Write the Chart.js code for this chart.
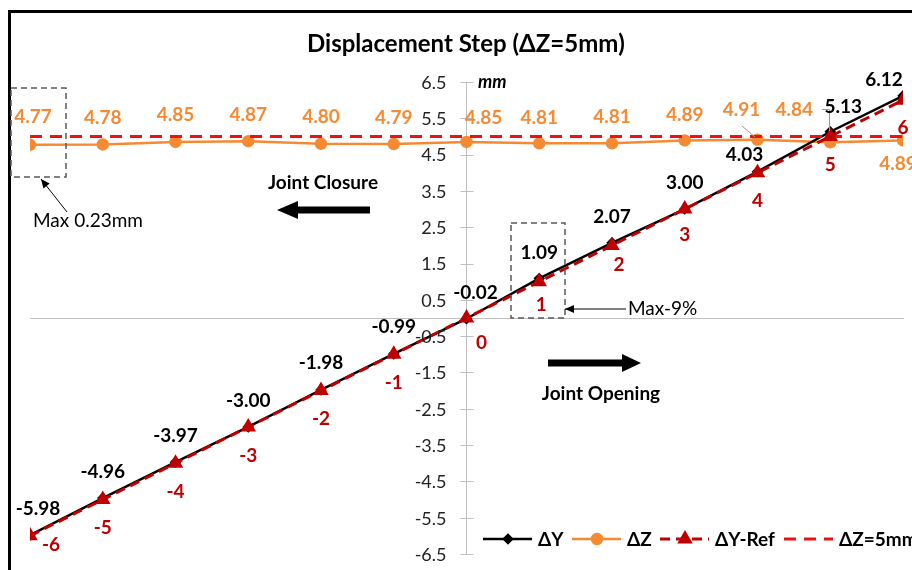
<!DOCTYPE html>
<html>
<head>
<meta charset="utf-8">
<script src="https://cdn.jsdelivr.net/npm/chart.js@4.4.1/dist/chart.umd.min.js"></script>
<style>
html, body { margin: 0; padding: 0; width: 912px; height: 570px; overflow: hidden; background: #fff; }
#frame { position: absolute; left: 8px; top: 10px; width: 1000px; height: 1000px; border: 3px solid #000; }
#c { position: absolute; left: 0; top: 0; }
</style>
</head>
<body>
<div id="frame"></div>
<canvas id="c" width="960" height="600"></canvas>
<script>
// data
var steps = [-6, -5, -4, -3, -2, -1, 0, 1, 2, 3, 4, 5, 6];
var dY    = [-5.98, -4.96, -3.97, -3.00, -1.98, -0.99, -0.02, 1.09, 2.07, 3.00, 4.03, 5.13, 6.12];
var dZ    = [4.77, 4.78, 4.85, 4.87, 4.80, 4.79, 4.85, 4.81, 4.81, 4.89, 4.91, 4.84, 4.89];
var dYRef = [-6, -5, -4, -3, -2, -1, 0, 1, 2, 3, 4, 5, 6];
var dZRef = [5, 5, 5, 5, 5, 5, 5, 5, 5, 5, 5, 5, 5];
var yTicks = [-6.5, -5.5, -4.5, -3.5, -2.5, -1.5, -0.5, 0.5, 1.5, 2.5, 3.5, 4.5, 5.5, 6.5];
var seriesNames = ['\u0394Y', '\u0394Z', '\u0394Y-Ref', '\u0394Z=5mm'];
var titleText = 'Displacement Step (\u0394Z=5mm)';

// label nudges (px), like the hand-moved labels in the original
var dYOff  = [[8,-26],[0,-26],[0,-26],[0,-26],[0,-27],[0,-27],[9,-26],[0,-26],[0,-26],[0,-26],[-13,-17],[13,-25],[-19,-16]];
var dZOff  = [[3,-28],[0,-27],[0,-27],[0,-26],[0,-27],[0,-26],[17,-24],[0,-25],[0,-26],[0,-26],[-16,-30],[-36,-32],[-5,23]];
var refOff = [[21,9],[0,28],[0,29],[0,29],[0,28],[0,29],[15,25],[2,23],[7,19],[0,26],[0,28],[0,28],[0,28]];

var FONT = 'Lato, "Open Sans", sans-serif';
var ORANGE = '#F68A33', DARKRED = '#C00000', RED = '#EE1111', AXIS = '#BFBFBF';

function pts(arr) {
    return steps.map(function(s, i) { return { x: s, y: arr[i] }; });
}

function arrow(ctx, x1, x2, y, shaft, headW, headL) {
    var dir = x2 > x1 ? 1 : -1;
    var xb = x2 - dir * headL;
    ctx.beginPath();
    ctx.moveTo(x1, y - shaft / 2);
    ctx.lineTo(xb, y - shaft / 2);
    ctx.lineTo(xb, y - headW / 2);
    ctx.lineTo(x2, y);
    ctx.lineTo(xb, y + headW / 2);
    ctx.lineTo(xb, y + shaft / 2);
    ctx.lineTo(x1, y + shaft / 2);
    ctx.closePath();
    ctx.fill();
}

function thinArrow(ctx, fx, fy, tx, ty) {
    ctx.beginPath();
    ctx.moveTo(fx, fy);
    ctx.lineTo(tx, ty);
    ctx.stroke();
    var a = Math.atan2(ty - fy, tx - fx), L = 9, W = 4;
    ctx.beginPath();
    ctx.moveTo(tx, ty);
    ctx.lineTo(tx - L * Math.cos(a) + W * Math.sin(a), ty - L * Math.sin(a) - W * Math.cos(a));
    ctx.lineTo(tx - L * Math.cos(a) - W * Math.sin(a), ty - L * Math.sin(a) + W * Math.cos(a));
    ctx.closePath();
    ctx.fill();
}

var overlay = {
    id: 'overlay',
    afterDatasetsDraw: function(chart) {
        var ctx = chart.ctx;
        var xs = chart.scales.x, ys = chart.scales.y;
        ctx.save();

        // cross tick marks and labels on the value axis
        var x0 = xs.getPixelForValue(0);
        ctx.strokeStyle = AXIS;
        ctx.lineWidth = 1;
        ctx.fillStyle = '#222';
        ctx.font = '18px ' + FONT;
        ctx.textAlign = 'right';
        ctx.textBaseline = 'middle';
        ys.ticks.forEach(function(t) {
            var yp = ys.getPixelForValue(t.value);
            var y = Math.round(yp) + 0.5;
            ctx.beginPath();
            ctx.moveTo(x0 - 6, y);
            ctx.lineTo(x0 + 7, y);
            ctx.stroke();
            ctx.fillText(t.value.toFixed(1), x0 - 20, yp + 1);
        });

        // leader lines
        ctx.strokeStyle = '#999';
        ctx.beginPath();
        ctx.moveTo(822, 109.5); ctx.lineTo(829.5, 109.5); ctx.lineTo(829.5, 131);
        ctx.moveTo(742, 126); ctx.lineTo(755, 137);
        ctx.stroke();

        // data labels
        ctx.textAlign = 'center';
        ctx.textBaseline = 'middle';
        ctx.font = 'bold 19px ' + FONT;
        var groups = [[0, dY, dYOff, '#000'], [1, dZ, dZOff, ORANGE], [2, dYRef, refOff, DARKRED]];
        groups.forEach(function(g) {
            var meta = chart.getDatasetMeta(g[0]);
            meta.data.forEach(function(el, i) {
                var v = g[1][i];
                var txt = g[0] === 2 ? String(v) : v.toFixed(2);
                ctx.fillStyle = g[3];
                ctx.fillText(txt, el.x + g[2][i][0], el.y + g[2][i][1]);
            });
        });
        ctx.restore();
    },
    afterDraw: function(chart) {
        var ctx = chart.ctx;
        ctx.save();

        // title
        ctx.fillStyle = '#000';
        ctx.textAlign = 'center';
        ctx.textBaseline = 'middle';
        ctx.font = 'bold 24px ' + FONT;
        ctx.fillText(titleText, 466, 44);

        // axis unit
        ctx.textAlign = 'left';
        ctx.font = 'italic bold 18px ' + FONT;
        ctx.fillText('mm', 478, 82);

        // annotation boxes
        ctx.strokeStyle = '#595959';
        ctx.lineWidth = 1.5;
        ctx.setLineDash([6, 4]);
        ctx.strokeRect(11, 88, 55, 89);
        ctx.strokeRect(511, 223, 54, 95);
        ctx.setLineDash([]);

        // thin pointer arrows + notes
        ctx.strokeStyle = '#000';
        ctx.fillStyle = '#000';
        ctx.lineWidth = 1;
        thinArrow(ctx, 67, 212, 41, 179);
        thinArrow(ctx, 626, 309, 565, 309);
        ctx.font = '19px ' + FONT;
        ctx.textBaseline = 'middle';
        ctx.textAlign = 'left';
        ctx.fillText('Max 0.23mm', 33, 221);
        ctx.fillText('Max-9%', 628, 309);

        // direction notes
        ctx.font = 'bold 19px ' + FONT;
        ctx.textAlign = 'center';
        ctx.fillText('Joint Closure', 323, 183);
        ctx.fillText('Joint Opening', 601, 394);
        arrow(ctx, 370, 277, 210, 7, 18, 21);
        arrow(ctx, 548, 641, 363, 7, 18, 19);

        // legend
        var lx = [483, 572, 660, 784];
        var ly = 539;
        ctx.font = 'bold 19px ' + FONT;
        ctx.textAlign = 'left';
        chart.data.datasets.forEach(function(ds, i) {
            ctx.strokeStyle = ds.borderColor;
            ctx.lineWidth = ds.borderWidth;
            ctx.setLineDash(ds.borderDash || []);
            ctx.beginPath();
            ctx.moveTo(lx[i], ly);
            ctx.lineTo(lx[i] + 49, ly);
            ctx.stroke();
            ctx.setLineDash([]);
            if (ds.pointRadius > 0) {
                ctx.fillStyle = ds.pointBackgroundColor;
                ctx.strokeStyle = ds.pointBorderColor;
                Chart.helpers.drawPoint(ctx, {
                    pointStyle: ds.pointStyle, radius: ds.pointRadius,
                    borderWidth: 1, rotation: 0
                }, lx[i] + 25, ly);
            }
            ctx.fillStyle = '#000';
            ctx.fillText(ds.label, lx[i] + 55, ly + 1);
        });
        ctx.restore();
    }
};

new Chart(document.getElementById('c'), {
    type: 'scatter',
    data: {
        datasets: [
            {
                label: seriesNames[0], data: pts(dY), showLine: true, order: 2,
                borderColor: '#000', borderWidth: 2.5,
                pointStyle: 'rectRot', pointRadius: 4,
                pointBackgroundColor: '#000', pointBorderColor: '#000'
            },
            {
                label: seriesNames[1], data: pts(dZ), showLine: true, order: 3,
                borderColor: ORANGE, borderWidth: 2.5,
                pointStyle: 'circle', pointRadius: 5,
                pointBackgroundColor: ORANGE, pointBorderColor: ORANGE
            },
            {
                label: seriesNames[2], data: pts(dYRef), showLine: true, order: 0,
                borderColor: DARKRED, borderWidth: 3, borderDash: [10, 6],
                pointStyle: 'triangle', pointRadius: 6,
                pointBackgroundColor: DARKRED, pointBorderColor: DARKRED
            },
            {
                label: seriesNames[3], data: pts(dZRef), showLine: true, order: 1,
                borderColor: RED, borderWidth: 3, borderDash: [12, 8],
                pointRadius: 0, pointBackgroundColor: RED, pointBorderColor: RED
            }
        ]
    },
    options: {
        responsive: false,
        animation: false,
        layout: { padding: { left: 30, right: 57, top: 82, bottom: 46 } },
        plugins: {
            legend: { display: false },
            title: { display: false },
            tooltip: { enabled: false }
        },
        scales: {
            x: {
                type: 'linear', min: -6, max: 6,
                position: { y: 0 },
                ticks: { display: false },
                grid: { display: false },
                border: { display: true, color: AXIS, width: 1 }
            },
            y: {
                type: 'linear', min: -6.5, max: 6.5,
                position: { x: 0 },
                afterBuildTicks: function(scale) {
                    scale.ticks = yTicks.map(function(v) { return { value: v }; });
                },
                ticks: { display: false },
                grid: { display: false },
                border: { display: true, color: AXIS, width: 1 }
            }
        }
    },
    plugins: [overlay]
});
</script>
</body>
</html>
